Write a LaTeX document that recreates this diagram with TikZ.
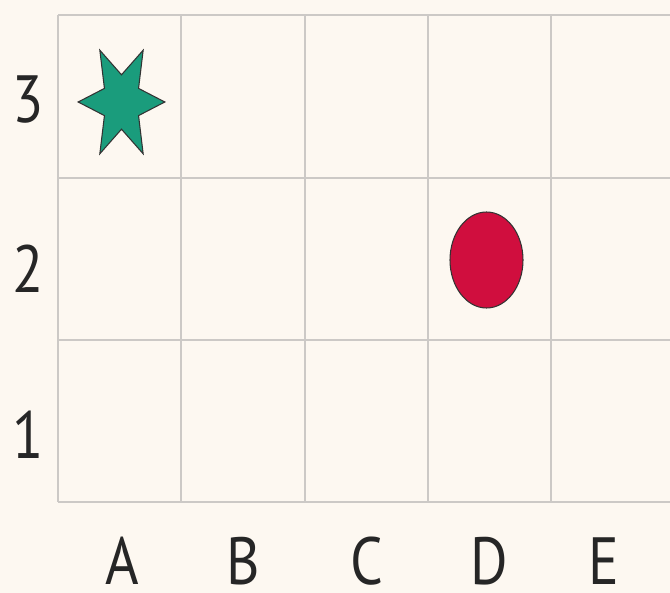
\documentclass[tikz,border=0pt]{standalone}
\usepackage{fontspec}
\setmainfont{PT Sans}[FakeStretch=0.86]
\usetikzlibrary{shapes.geometric}
\definecolor{paper}{RGB}{253,248,241}
\definecolor{gridgray}{RGB}{204,201,198}
\definecolor{stargreen}{RGB}{26,156,124}
\definecolor{dotred}{RGB}{208,14,62}
\begin{document}
\begin{tikzpicture}[x=0.03cm, y=-0.03cm,
    label/.style = {inner sep=0pt, font=\fontsize{57}{59}\selectfont, text=black!85},
    gridline/.style = {draw=gridgray, line width=1.6pt},
    piece/.style = {draw=black!80, line width=0.9pt, inner sep=0pt}]
    \fill[paper] (0,0) rectangle (670,593);
    \useasboundingbox (0,0) rectangle (670,593);

    % grid
    \draw[gridline] (58,15) -- (680,15);
    \draw[gridline] (58,178) -- (680,178);
    \draw[gridline] (58,340) -- (680,340);
    \draw[gridline] (58,502) -- (680,502);
    \draw[gridline] (58,15) -- (58,502);
    \draw[gridline] (181,15) -- (181,502);
    \draw[gridline] (305,15) -- (305,502);
    \draw[gridline] (428,15) -- (428,502);
    \draw[gridline] (551,15) -- (551,502);

    % row labels
    \node[label] (r3) at (28,100) {3};
    \node[label] (r2) at (28,269) {2};
    \node[label] (r1) at (28,435) {1};

    % column labels
    \node[label] (cA) at (122,561) {A};
    \node[label] (cB) at (243,561) {B};
    \node[label] (cC) at (367,561) {C};
    \node[label] (cD) at (489,561) {D};
    \node[label] (cE) at (604,561) {E};

    % pieces
    \node[piece, fill=stargreen, star, star points=6, star point ratio=2.2,
          shape border rotate=30, minimum size=2.6cm, yscale=1.38, transform shape]
          (star) at (121.5,102) {};
    \node[piece, fill=dotred, ellipse, minimum width=2.19cm, minimum height=2.88cm]
          (dot) at (486.5,260) {};
\end{tikzpicture}
\end{document}
